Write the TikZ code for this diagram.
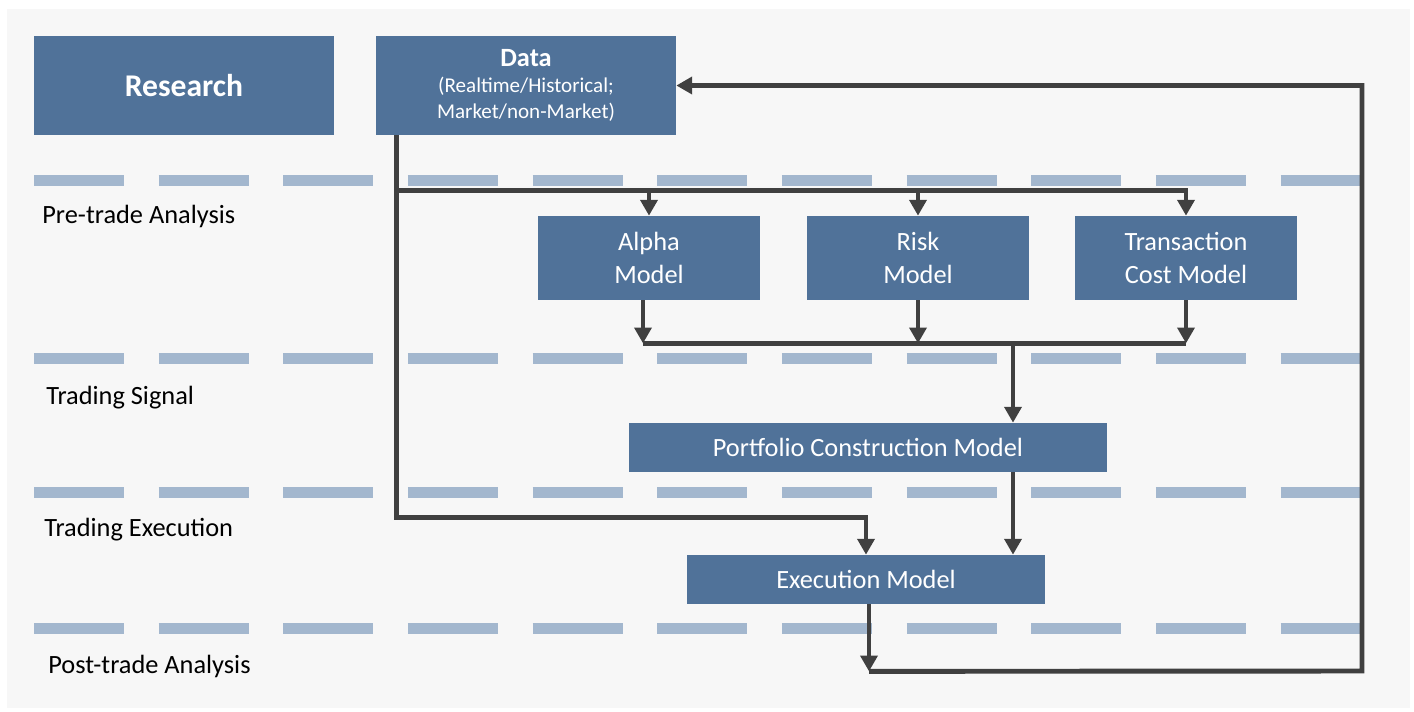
\documentclass[tikz,border=0pt]{standalone}
\usepackage{fontspec}
\setmainfont{Carlito}
\usetikzlibrary{arrows.meta,calc}
\definecolor{boxblue}{RGB}{80,114,153}
\definecolor{lanegray}{RGB}{163,183,206}
\definecolor{linegray}{RGB}{64,64,64}
\definecolor{bggray}{RGB}{247,247,247}
\begin{document}
\begin{tikzpicture}[x=0.02cm,y=-0.02cm,
	>={Triangle[width=9.6pt,length=9pt]},
	box/.style={fill=boxblue,text=white,inner sep=0pt,align=center,
		font=\fontsize{15}{18.5}\selectfont},
	lane/.style={lanegray,line width=6.26pt,dash pattern=on 51.2pt off 19.75pt},
	lanelabel/.style={anchor=west,inner sep=0pt,font=\fontsize{15}{18}\selectfont},
	link/.style={linegray,line width=2.8pt},
	flowarrow/.style={link,->}]
	
	\useasboundingbox (0,0) rectangle (1414,711);
	\fill[bggray] (7,9) rectangle (1410,708);
	
	% lanes
	\foreach \y in {180.5,358.5,492,628.5}
		\draw[lane] (34,\y) -- (1360,\y);
	
	\node[lanelabel] (pretrade) at (42,216) {Pre-trade Analysis};
	\node[lanelabel] (signal) at (46,398) {Trading Signal};
	\node[lanelabel] (execution) at (44,530) {Trading Execution};
	\node[lanelabel] (posttrade) at (48,666) {Post-trade Analysis};
	
	% boxes
	\node[box,minimum width=6cm,minimum height=1.98cm,
		font=\fontsize{18}{22}\selectfont\bfseries] (research) at (184,85.5) {Research};
	\node[box,minimum width=6cm,minimum height=1.98cm,
		font=\fontsize{12}{14.8}\selectfont] (data) at (526,85.5)
		{{\fontsize{15}{16}\selectfont\bfseries Data}\\(Realtime/Historical;\\Market/non-Market)};
	\node[box,minimum width=4.44cm,minimum height=1.68cm] (alpha) at (649,258) {Alpha\\Model};
	\node[box,minimum width=4.44cm,minimum height=1.68cm] (risk) at (918,258) {Risk\\Model};
	\node[box,minimum width=4.44cm,minimum height=1.68cm] (tcost) at (1186,258) {Transaction\\Cost Model};
	\node[box,minimum width=9.56cm,minimum height=0.98cm] (pcm) at (868,447.5) {Portfolio Construction Model};
	\node[box,minimum width=7.16cm,minimum height=0.98cm] (exec) at (866,579.5) {Execution Model};
	
	% data feed
	\coordinate (d0) at ($(data.south west)+(21,0)$);
	\coordinate (bus1) at ($(d0)+(0,55)$);
	\draw[flowarrow] (d0) |- ($(exec.north)+(0,-37)$) -- (exec.north);
	\draw[flowarrow] (bus1) -| (tcost.north);
	\draw[flowarrow] (bus1 -| alpha.north) -- (alpha.north);
	\draw[flowarrow] (bus1 -| risk.north) -- (risk.north);
	
	% models to portfolio
	\coordinate (bus2) at ($(alpha.south)+(-6,43)$);
	\draw[link] (bus2) -- (bus2 -| tcost.south);
	\draw[flowarrow] ($(alpha.south)+(-6,0)$) -- (bus2);
	\draw[flowarrow] (risk.south) -- (bus2 -| risk.south);
	\draw[flowarrow] (tcost.south) -- (bus2 -| tcost.south);
	\coordinate (ptap) at ($(pcm.north)+(145,0)$);
	\draw[flowarrow] (bus2 -| ptap) -- (ptap);
	\draw[flowarrow] ($(pcm.south)+(145,0)$) -- (exec.north -| ptap);
	
	% feedback
	\coordinate (fb0) at ($(exec.south)+(3,67)$);
	\coordinate (loopx) at (1362,671);
	\draw[flowarrow] ($(exec.south)+(3,0)$) -- (fb0);
	\draw[flowarrow] (fb0) -- (loopx) |- (data.east);
	
\end{tikzpicture}
\end{document}
